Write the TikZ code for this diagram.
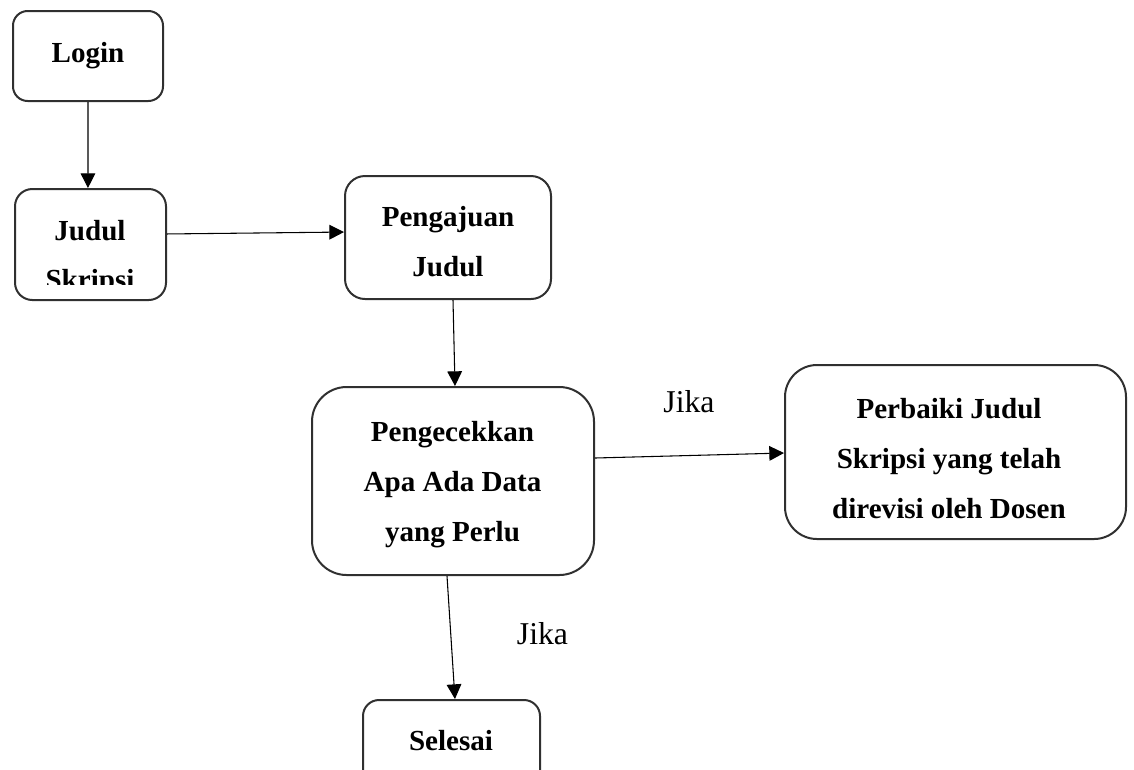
\documentclass[tikz,border=0pt]{standalone}
\usepackage{fontspec}
\setmainfont{Liberation Serif}
\usetikzlibrary{arrows.meta}
\definecolor{boxgray}{HTML}{303030}

\tikzset{
  flowbox/.style={draw=boxgray, line width=1.5pt, rectangle, inner sep=0pt},
  boxtext/.style={anchor=base, inner sep=0pt, font=\fontsize{21.8}{26}\selectfont\bfseries},
  condtext/.style={anchor=base, inner sep=0pt, font=\fontsize{23.8}{28}\selectfont},
  flow/.style={line width=0.8pt, -{Triangle[length=11pt,width=11pt]}}
}

\begin{document}
\begin{tikzpicture}[x=0.75pt, y=-0.75pt]
  % page frame, also cuts the lowest box
  \clip (0,0) rectangle (1134,769);

  % boxes
  \node[flowbox, rounded corners=11pt, minimum width=112.5pt, minimum height=67.5pt] (login) at (88,56) {};
  \node[flowbox, rounded corners=13pt, minimum width=113.25pt, minimum height=83.25pt] (judul) at (90.5,244.5) {};
  \node[flowbox, rounded corners=15pt, minimum width=154.5pt, minimum height=92.25pt] (pengajuan) at (448,237.5) {};
  \node[flowbox, rounded corners=26pt, minimum width=211.5pt, minimum height=141pt] (cek) at (453,481) {};
  \node[flowbox, rounded corners=24pt, minimum width=255.75pt, minimum height=130.5pt] (perbaiki) at (955.5,452) {};
  \node[flowbox, rounded corners=12pt, minimum width=132.75pt, minimum height=75pt] (selesai) at (451.5,750) {};

  % box texts
  \node[boxtext] (t-login) at (88,62) {Login};
  \node[boxtext] (t-judul1) at (90,240) {Judul};
  \begin{scope}
    \clip (15,190) rectangle (166,284);
    \node[boxtext] (t-judul2) at (90,289) {Skripsi};
  \end{scope}
  \node[boxtext] (t-aju1) at (448,226) {Pengajuan};
  \node[boxtext] (t-aju2) at (448,276) {Judul};
  \node[boxtext] (t-cek1) at (452.5,441.5) {Pengecekkan};
  \node[boxtext] (t-cek2) at (452.5,491) {Apa Ada Data};
  \node[boxtext] (t-cek3) at (452.5,541.5) {yang Perlu};
  \node[boxtext] (t-fix1) at (949,418) {Perbaiki Judul};
  \node[boxtext] (t-fix2) at (949,468) {Skripsi yang telah};
  \node[boxtext] (t-fix3) at (949,518) {direvisi oleh Dosen};
  \node[boxtext] (t-end) at (451,750) {Selesai};

  % connectors
  \draw[flow] (login.south) -- ([xshift=-1.9pt]judul.north);
  \draw[flow] ([yshift=7.9pt]judul.east) -- ([yshift=4.1pt]pengajuan.west);
  \draw[flow] ([xshift=3.75pt]pengajuan.south) -- ([xshift=1.5pt]cek.north);
  \draw[flow] ([yshift=17.25pt]cek.east) -- ([yshift=-0.75pt]perbaiki.west);
  \draw[flow] ([xshift=-4.5pt]cek.south) -- ([xshift=2.6pt]selesai.north);

  % conditions
  \node[condtext] (jika1) at (689,412) {Jika};
  \node[condtext] (jika2) at (542.5,644) {Jika};
\end{tikzpicture}
\end{document}
